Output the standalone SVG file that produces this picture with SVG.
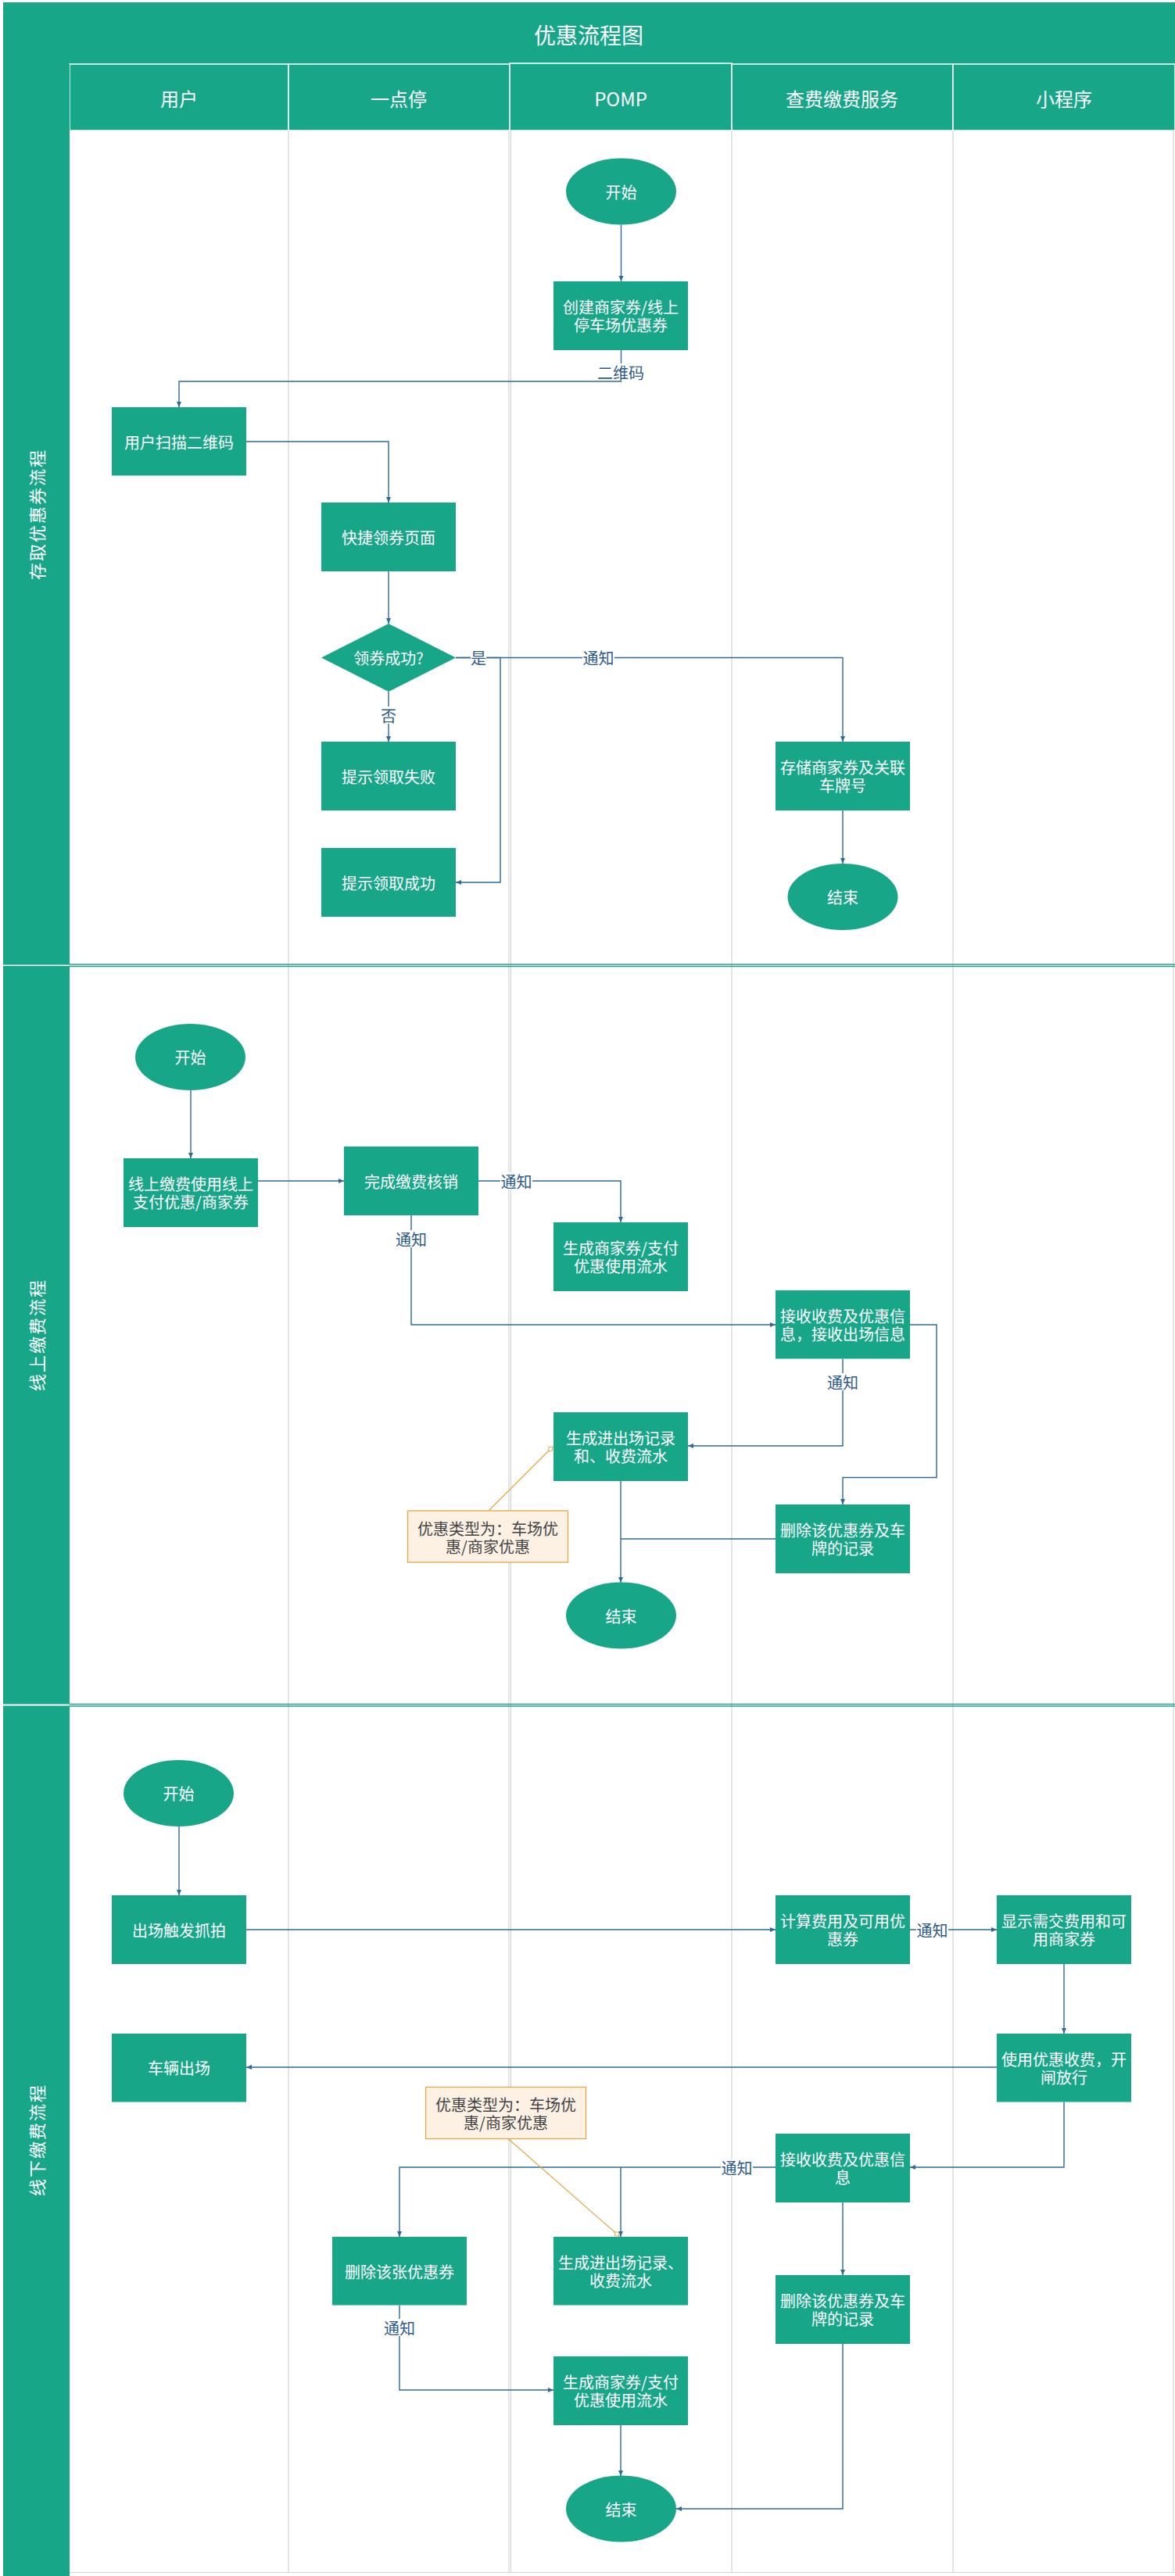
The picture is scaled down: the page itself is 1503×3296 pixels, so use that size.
<svg xmlns="http://www.w3.org/2000/svg" width="1503" height="3296" viewBox="0 0 1503 3296">
  <defs>
    <style>
      text { font-family: "Noto Sans CJK SC", "Noto Sans", sans-serif; }
      .band { fill: #18a689; }
      .cell { fill: #18a689; stroke: #ffffff; stroke-width: 1.5; }
      .lane { stroke: #d3d3d3; stroke-width: 1.2; fill: none; }
      .divider { stroke: #2aa08a; stroke-width: 1.3; fill: none; }
      .title { fill: #ffffff; font-size: 28px; text-anchor: middle; dominant-baseline: central; }
      .head { fill: #ffffff; font-size: 24px; text-anchor: middle; dominant-baseline: central; }
      .side { fill: #ffffff; font-size: 22px; letter-spacing: 2px; text-anchor: middle; dominant-baseline: central; }
      .shape { fill: #18a689; }
      .ntext { fill: #ffffff; font-size: 20px; text-anchor: middle; dominant-baseline: central; }
      .note rect { fill: #fdf1e4; stroke: #e2a84a; stroke-width: 1.3; }
      .note text { fill: #444444; font-size: 20px; text-anchor: middle; dominant-baseline: central; }
      .edge { stroke: #2f6a96; stroke-width: 1.4; fill: none; marker-end: url(#arrow); }
      .plain { stroke: #2f6a96; stroke-width: 1.4; fill: none; }
      .tie { stroke: #e2a84a; stroke-width: 1.2; fill: none; marker-end: url(#tieEnd); }
      .lblbg { fill: #ffffff; }
      .lbl { fill: #2e5b88; font-size: 20px; text-anchor: middle; dominant-baseline: central; }
    </style>
    <marker id="arrow" markerUnits="userSpaceOnUse" markerWidth="8" markerHeight="8" refX="7" refY="3" orient="auto">
      <path d="M0,0 L7,3 L0,6 z" fill="#2f6a96"/>
    </marker>
    <marker id="tieEnd" markerUnits="userSpaceOnUse" markerWidth="12" markerHeight="10" refX="9" refY="4" orient="auto">
      <path d="M1,4 L5,1 L9,4 L5,7 z" fill="#ffffff" stroke="#e2a84a" stroke-width="1"/>
    </marker>
  </defs>

  <rect x="0" y="0" width="1503" height="3296" fill="#ffffff"/>

  <!-- title bar -->
  <g id="title">
    <rect class="band" x="4" y="3" width="1499" height="79"/>
    <text class="title" x="753" y="44">优惠流程图</text>
  </g>

  <!-- swimlane headers -->
  <g id="lane-headers">
    <rect class="cell" x="89" y="82" width="280" height="85"/>
    <rect class="cell" x="369" y="82" width="283" height="85"/>
    <rect class="cell" x="652" y="81" width="284" height="86"/>
    <rect class="cell" x="936" y="82" width="283" height="85"/>
    <rect class="cell" x="1219" y="82" width="284" height="85"/>
    <text class="head" x="229" y="125">用户</text>
    <text class="head" x="510" y="125">一点停</text>
    <text class="head" x="794" y="125">POMP</text>
    <text class="head" x="1077" y="125">查费缴费服务</text>
    <text class="head" x="1361" y="125">小程序</text>
  </g>

  <!-- lane separators -->
  <g id="lanes">
    <line class="lane" x1="369" y1="167" x2="369" y2="3292"/>
    <line class="lane" x1="651" y1="167" x2="651" y2="3292"/>
    <line class="lane" x1="653.5" y1="167" x2="653.5" y2="3292"/>
    <line class="lane" x1="936" y1="167" x2="936" y2="3292" stroke="#c8c8c8" stroke-width="1.6"/>
    <line class="lane" x1="1219" y1="167" x2="1219" y2="3292"/>
    <line class="lane" x1="1501" y1="167" x2="1501" y2="3292"/>
    <line class="lane" x1="89" y1="3291.5" x2="1503" y2="3291.5"/>
  </g>

  <!-- phase columns and dividers -->
  <g id="phases">
    <rect class="band" x="4" y="82" width="85" height="1152.5"/>
    <rect class="band" x="4" y="1236" width="85" height="944.5"/>
    <rect class="band" x="4" y="2182.5" width="85" height="1113.5"/>
    <line class="divider" x1="89" y1="1234" x2="1503" y2="1234"/>
    <line class="divider" x1="89" y1="1236.5" x2="1503" y2="1236.5"/>
    <line class="divider" x1="89" y1="2180.5" x2="1503" y2="2180.5"/>
    <line class="divider" x1="89" y1="2183" x2="1503" y2="2183"/>
    <text class="side" transform="translate(46,658) rotate(-90)">存取优惠券流程</text>
    <text class="side" transform="translate(46,1708) rotate(-90)">线上缴费流程</text>
    <text class="side" transform="translate(46,2738) rotate(-90)">线下缴费流程</text>
  </g>

  <!-- connectors -->
  <g id="connectors">
    <!-- phase 1 -->
    <path class="edge" d="M794.5,287.5 L794.5,360"/>
    <path class="edge" d="M794.5,448 L794.5,488 L229,488 L229,521"/>
    <path class="edge" d="M315,565 L497,565 L497,643"/>
    <path class="edge" d="M497,731 L497,798"/>
    <path class="edge" d="M583,841.5 L640,841.5 L640,1129 L583,1129"/>
    <path class="edge" d="M583,841.5 L1078,841.5 L1078,949"/>
    <path class="edge" d="M497,885 L497,949"/>
    <path class="edge" d="M1078,1037 L1078,1105"/>
    <!-- phase 2 -->
    <path class="edge" d="M244,1395 L244,1482"/>
    <path class="edge" d="M330,1511 L440,1511"/>
    <path class="edge" d="M611.5,1511 L794,1511 L794,1564"/>
    <path class="edge" d="M526,1555 L526,1695 L992,1695"/>
    <path class="edge" d="M1078,1738.5 L1078,1850 L880,1850"/>
    <path class="edge" d="M1164,1695 L1198,1695 L1198,1890.5 L1078,1890.5 L1078,1925"/>
    <path class="edge" d="M794,1895 L794,2025"/>
    <path class="plain" d="M992,1969 L794,1969"/>
    <!-- phase 3 -->
    <path class="edge" d="M229,2337 L229,2425"/>
    <path class="edge" d="M315,2469 L992,2469"/>
    <path class="edge" d="M1164,2469 L1275,2469"/>
    <path class="edge" d="M1361,2513 L1361,2602"/>
    <path class="edge" d="M1275,2645 L315,2645"/>
    <path class="edge" d="M1361,2689.5 L1361,2773 L1164,2773"/>
    <path class="edge" d="M992,2773 L511,2773 L511,2862"/>
    <path class="edge" d="M794,2773 L794,2862"/>
    <path class="edge" d="M1078,2818 L1078,2911"/>
    <path class="edge" d="M511,2949.5 L511,3058 L708,3058"/>
    <path class="edge" d="M794,3103 L794,3168"/>
    <path class="edge" d="M1078,2999 L1078,3210 L865,3210"/>
    <!-- annotation ties -->
    <path class="tie" d="M625,1933 L707,1851"/>
    <path class="tie" d="M650,2736.5 L792,2861"/>

    <!-- connector labels -->
    <rect class="lblbg" x="765" y="465" width="58" height="22"/>
    <text class="lbl" x="794" y="476">二维码</text>
    <rect class="lblbg" x="602" y="831" width="20" height="22"/>
    <text class="lbl" x="612" y="841">是</text>
    <rect class="lblbg" x="745" y="831" width="41" height="22"/>
    <text class="lbl" x="765.5" y="841">通知</text>
    <rect class="lblbg" x="487" y="904" width="20" height="22"/>
    <text class="lbl" x="497" y="915">否</text>
    <rect class="lblbg" x="640" y="1500" width="41" height="22"/>
    <text class="lbl" x="660.5" y="1511">通知</text>
    <rect class="lblbg" x="505.5" y="1574" width="41" height="22"/>
    <text class="lbl" x="526" y="1585">通知</text>
    <rect class="lblbg" x="1057.5" y="1757" width="41" height="22"/>
    <text class="lbl" x="1078" y="1768">通知</text>
    <rect class="lblbg" x="1172" y="2458" width="41" height="22"/>
    <text class="lbl" x="1192.5" y="2469">通知</text>
    <rect class="lblbg" x="922" y="2762" width="41" height="22"/>
    <text class="lbl" x="942.5" y="2773">通知</text>
    <rect class="lblbg" x="490.5" y="2967" width="41" height="22"/>
    <text class="lbl" x="511" y="2978">通知</text>
  </g>

  <!-- phase 1 nodes -->
  <g id="p1-start">
    <ellipse class="shape" cx="794.5" cy="245" rx="70.5" ry="42.5"/>
    <text class="ntext" x="794.5" y="245">开始</text>
  </g>
  <g id="p1-create">
    <rect class="shape" x="708" y="360" width="172" height="88"/>
    <text class="ntext" x="794" y="392.5">创建商家券/线上</text>
    <text class="ntext" x="794" y="415.5">停车场优惠券</text>
  </g>
  <g id="p1-scan">
    <rect class="shape" x="143" y="521" width="172" height="87.5"/>
    <text class="ntext" x="229" y="565">用户扫描二维码</text>
  </g>
  <g id="p1-page">
    <rect class="shape" x="411" y="643" width="172" height="88"/>
    <text class="ntext" x="497" y="687">快捷领券页面</text>
  </g>
  <g id="p1-check">
    <polygon class="shape" points="497,798 583,841.5 497,885 411,841.5"/>
    <text class="ntext" x="497" y="841.5">领券成功?</text>
  </g>
  <g id="p1-fail">
    <rect class="shape" x="411" y="949" width="172" height="88"/>
    <text class="ntext" x="497" y="993">提示领取失败</text>
  </g>
  <g id="p1-ok">
    <rect class="shape" x="411" y="1085" width="172" height="88"/>
    <text class="ntext" x="497" y="1129">提示领取成功</text>
  </g>
  <g id="p1-store">
    <rect class="shape" x="992" y="949" width="172" height="88"/>
    <text class="ntext" x="1078" y="981.5">存储商家券及关联</text>
    <text class="ntext" x="1078" y="1004.5">车牌号</text>
  </g>
  <g id="p1-end">
    <ellipse class="shape" cx="1078" cy="1147.5" rx="70.5" ry="42.5"/>
    <text class="ntext" x="1078" y="1147.5">结束</text>
  </g>

  <!-- phase 2 nodes -->
  <g id="p2-start">
    <ellipse class="shape" cx="243.5" cy="1352.5" rx="70.5" ry="42.5"/>
    <text class="ntext" x="243.5" y="1352.5">开始</text>
  </g>
  <g id="p2-pay">
    <rect class="shape" x="158" y="1482" width="172" height="88"/>
    <text class="ntext" x="244" y="1514.5">线上缴费使用线上</text>
    <text class="ntext" x="244" y="1537.5">支付优惠/商家券</text>
  </g>
  <g id="p2-settle">
    <rect class="shape" x="440" y="1467" width="172" height="88"/>
    <text class="ntext" x="526" y="1511">完成缴费核销</text>
  </g>
  <g id="p2-flow">
    <rect class="shape" x="708" y="1564" width="172" height="88"/>
    <text class="ntext" x="794" y="1596.5">生成商家券/支付</text>
    <text class="ntext" x="794" y="1619.5">优惠使用流水</text>
  </g>
  <g id="p2-receive">
    <rect class="shape" x="992" y="1651" width="172" height="87.5"/>
    <text class="ntext" x="1078" y="1683.5">接收收费及优惠信</text>
    <text class="ntext" x="1078" y="1706.5">息，接收出场信息</text>
  </g>
  <g id="p2-record">
    <rect class="shape" x="708" y="1807" width="172" height="88"/>
    <text class="ntext" x="794" y="1839.5">生成进出场记录</text>
    <text class="ntext" x="794" y="1862.5">和、收费流水</text>
  </g>
  <g id="p2-delete">
    <rect class="shape" x="992" y="1925" width="172" height="88"/>
    <text class="ntext" x="1078" y="1957.5">删除该优惠券及车</text>
    <text class="ntext" x="1078" y="1980.5">牌的记录</text>
  </g>
  <g id="p2-note" class="note">
    <rect x="521.5" y="1933" width="205" height="66"/>
    <text x="624" y="1955">优惠类型为：车场优</text>
    <text x="624" y="1978">惠/商家优惠</text>
  </g>
  <g id="p2-end">
    <ellipse class="shape" cx="794.5" cy="2067" rx="70.5" ry="42.5"/>
    <text class="ntext" x="794.5" y="2067">结束</text>
  </g>

  <!-- phase 3 nodes -->
  <g id="p3-start">
    <ellipse class="shape" cx="228.5" cy="2294.5" rx="70.5" ry="42.5"/>
    <text class="ntext" x="228.5" y="2294.5">开始</text>
  </g>
  <g id="p3-capture">
    <rect class="shape" x="143" y="2425" width="172" height="88"/>
    <text class="ntext" x="229" y="2469">出场触发抓拍</text>
  </g>
  <g id="p3-calc">
    <rect class="shape" x="992" y="2425" width="172" height="88"/>
    <text class="ntext" x="1078" y="2457.5">计算费用及可用优</text>
    <text class="ntext" x="1078" y="2480.5">惠券</text>
  </g>
  <g id="p3-show">
    <rect class="shape" x="1275" y="2425" width="172" height="88"/>
    <text class="ntext" x="1361" y="2457.5">显示需交费用和可</text>
    <text class="ntext" x="1361" y="2480.5">用商家券</text>
  </g>
  <g id="p3-charge">
    <rect class="shape" x="1275" y="2602" width="172" height="87.5"/>
    <text class="ntext" x="1361" y="2634">使用优惠收费，开</text>
    <text class="ntext" x="1361" y="2657">闸放行</text>
  </g>
  <g id="p3-leave">
    <rect class="shape" x="143" y="2602" width="172" height="87.5"/>
    <text class="ntext" x="229" y="2645.5">车辆出场</text>
  </g>
  <g id="p3-note" class="note">
    <rect x="544.5" y="2670.5" width="205" height="66"/>
    <text x="647" y="2692.5">优惠类型为：车场优</text>
    <text x="647" y="2715.5">惠/商家优惠</text>
  </g>
  <g id="p3-receive">
    <rect class="shape" x="992" y="2730" width="172" height="88"/>
    <text class="ntext" x="1078" y="2762.5">接收收费及优惠信</text>
    <text class="ntext" x="1078" y="2785.5">息</text>
  </g>
  <g id="p3-remove">
    <rect class="shape" x="425" y="2862" width="172" height="87.5"/>
    <text class="ntext" x="511" y="2906">删除该张优惠券</text>
  </g>
  <g id="p3-record">
    <rect class="shape" x="708" y="2862" width="172" height="87.5"/>
    <text class="ntext" x="794" y="2894.5">生成进出场记录、</text>
    <text class="ntext" x="794" y="2917.5">收费流水</text>
  </g>
  <g id="p3-delete">
    <rect class="shape" x="992" y="2911" width="172" height="88"/>
    <text class="ntext" x="1078" y="2943.5">删除该优惠券及车</text>
    <text class="ntext" x="1078" y="2966.5">牌的记录</text>
  </g>
  <g id="p3-flow">
    <rect class="shape" x="708" y="3015" width="172" height="88"/>
    <text class="ntext" x="794" y="3047.5">生成商家券/支付</text>
    <text class="ntext" x="794" y="3070.5">优惠使用流水</text>
  </g>
  <g id="p3-end">
    <ellipse class="shape" cx="794.5" cy="3210" rx="70.5" ry="42.5"/>
    <text class="ntext" x="794.5" y="3210">结束</text>
  </g>
</svg>
